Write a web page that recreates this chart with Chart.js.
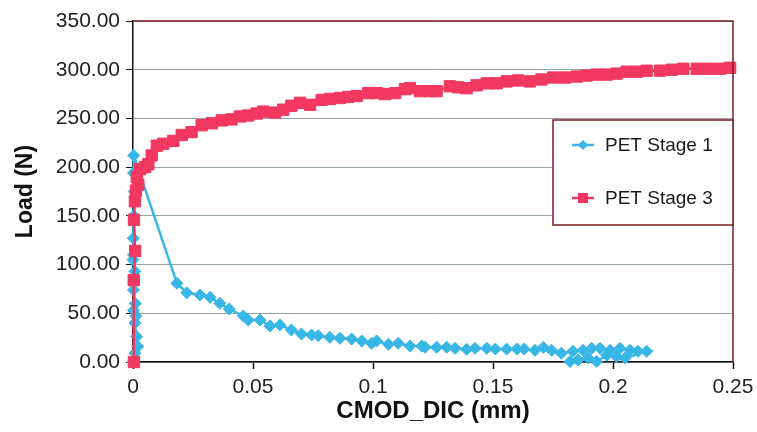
<!DOCTYPE html>
<html>
<head>
<meta charset="utf-8">
<script src="https://cdn.jsdelivr.net/npm/chart.js@4/dist/chart.umd.min.js"></script>
<style>
  body { margin: 0; background: #fff; overflow: hidden; }
  #wrap { width: 757px; height: 432px; }
</style>
</head>
<body>
<div id="wrap"><canvas id="myChart"></canvas></div>
<script>
// data

var seriesNames = ['PET Stage 1', 'PET Stage 3'];

var xTicks = ['0', '0.05', '0.1', '0.15', '0.2', '0.25'];

// PET Stage 1 (blue diamonds)
var stage1X = [0, 0.0008, 0.0020, 0.0015, 0.0008, 0.0012, 0.0002, 0.0010, 0.0002, 0.0008,
    0.0000, 0.0002, 0.0001, 0.0003, 0.0005, 0.0002, 0.0003,
    0.0183, 0.0224, 0.0279, 0.0321, 0.0362, 0.0401, 0.0460, 0.0480, 0.0529, 0.0571, 0.0612,
    0.0660, 0.0702, 0.0744, 0.0772, 0.0820, 0.0862, 0.0911, 0.0953, 0.0994, 0.1015, 0.1064,
    0.1105, 0.1154, 0.1203, 0.1217, 0.1265, 0.1307, 0.1342, 0.1390, 0.1425, 0.1474, 0.1510,
    0.1557, 0.1600, 0.1630, 0.1675, 0.1710, 0.1744, 0.1785, 0.1833, 0.1875, 0.1911, 0.1946,
    0.1988, 0.2029, 0.2071, 0.2104, 0.2140,
    0.2050, 0.2015, 0.1974, 0.1932, 0.1896, 0.1854, 0.1821];
var stage1Y = [0, 9, 16, 26, 40, 47, 53, 60, 74, 93,
    105, 110, 127, 150, 175, 194, 212,
    80.8, 71, 68.8, 66.4, 60.2, 54.4, 47.2, 43.1, 43.1, 37, 38,
    32.9, 28.7, 27.7, 27, 25.3, 24.3, 23.6, 21.6, 19.2, 21.6, 18.2,
    19.2, 16.4, 16.4, 15.1, 15.1, 15.1, 14, 13, 14, 14, 13.3,
    13.3, 13.3, 13.3, 12, 15, 12, 9, 11, 12, 14, 14,
    12, 14, 12, 11, 11,
    4, 5.5, 7, 0.5, 4, 2, 0.5];

// PET Stage 3 (pink squares)
var stage3X = [0.0004, 0.0003, 0.0009, 0.0004, 0.0008, 0.0012, 0.0022, 0.0016, 0.0030, 0.0050,
    0.0064, 0.0078, 0.0099, 0.0126, 0.0168, 0.0203, 0.0244, 0.0286, 0.0328, 0.0370,
    0.0410, 0.0446, 0.0480, 0.0515, 0.0543, 0.0592, 0.0626, 0.0660, 0.0696, 0.0738,
    0.0786, 0.0820, 0.0862, 0.0897, 0.0932, 0.0980, 0.1015, 0.1050, 0.1092, 0.1133,
    0.1154, 0.1196, 0.1238, 0.1265, 0.1320, 0.1355, 0.1390, 0.1432, 0.1474, 0.1515,
    0.1557, 0.1605, 0.1654, 0.1702, 0.1751, 0.1800, 0.1849, 0.1890, 0.1932, 0.1974,
    0.2015, 0.2057, 0.2099, 0.2140, 0.2196, 0.2245, 0.2293, 0.2349, 0.2397, 0.2446, 0.2488];
var stage3Y = [0, 84, 114, 146, 165, 176, 182, 190, 198, 200,
    203, 212, 222, 224, 227, 233, 236, 243, 245, 248,
    249, 252, 253, 255, 257, 256, 259, 263, 266, 264,
    269, 270, 271, 272, 273, 276, 276, 275, 276, 280,
    281, 278, 278, 278, 283, 282, 281, 284, 286, 286,
    288, 289, 288, 290, 292, 292, 293, 294, 295, 295,
    296, 298, 298, 299, 299, 300, 301, 301, 301, 301, 302];

var blue = 'rgb(56,182,230)';
var pink = 'rgb(240,56,96)';
var darkRed = '#7c1d24';

function toPoints(xs, ys) {
    var pts = [];
    for (var i = 0; i < xs.length; i++) {
        pts.push({ x: xs[i], y: ys[i] });
    }
    return pts;
}

// red frame on top/right plus the boxed legend inside the plot
var frameAndLegend = {
    id: 'frameAndLegend',
    afterDraw: function (chart) {
        var ctx = chart.ctx;
        var a = chart.chartArea;
        ctx.save();
        ctx.strokeStyle = darkRed;
        ctx.lineWidth = 1.5;
        ctx.beginPath();
        ctx.moveTo(a.left, a.top);
        ctx.lineTo(a.right, a.top);
        ctx.lineTo(a.right, a.bottom);
        ctx.stroke();

        // legend box
        var bx = 553, by = 120, bw = a.right - 553, bh = 105;
        ctx.fillStyle = '#fff';
        ctx.fillRect(bx, by, bw, bh);
        ctx.strokeRect(bx, by, bw, bh);

        var rows = [145, 198];
        chart.data.datasets.forEach(function (ds, i) {
            var y = rows[i];
            ctx.strokeStyle = ds.borderColor;
            ctx.lineWidth = 2.5;
            ctx.beginPath();
            ctx.moveTo(572, y);
            ctx.lineTo(594, y);
            ctx.stroke();
            ctx.fillStyle = ds.backgroundColor;
            ctx.beginPath();
            if (ds.pointStyle === 'rectRot') {
                ctx.moveTo(583 - 5, y);
                ctx.lineTo(583, y - 5);
                ctx.lineTo(583 + 5, y);
                ctx.lineTo(583, y + 5);
                ctx.closePath();
            } else {
                ctx.rect(583 - 5, y - 5, 10, 10);
            }
            ctx.fill();
            ctx.fillStyle = '#1a1a1a';
            ctx.font = '19px "Liberation Sans", Arial, sans-serif';
            ctx.textBaseline = 'middle';
            ctx.textAlign = 'left';
            ctx.fillText(ds.label, 605, y + 1);
        });
        ctx.restore();
    }
};

const data = {
    datasets: [{
        label: seriesNames[0],
        data: toPoints(stage1X, stage1Y),
        borderColor: blue,
        backgroundColor: blue,
        borderWidth: 2.5,
        pointStyle: 'rectRot',
        pointRadius: 6,
        pointBorderWidth: 1,
        showLine: true,
        clip: false,
        order: 1
    }, {
        label: seriesNames[1],
        data: toPoints(stage3X, stage3Y),
        borderColor: pink,
        backgroundColor: pink,
        borderWidth: 2.5,
        pointStyle: 'rect',
        pointRadius: 8,
        pointBorderWidth: 1,
        showLine: true,
        clip: false,
        order: 0
    }]
};

const config = {
    type: 'scatter',
    data: data,
    plugins: [frameAndLegend],
    options: {
        responsive: true,
        maintainAspectRatio: false,
        animation: false,
        layout: { padding: { left: 0, right: 24, top: 21, bottom: 0 } },
        plugins: {
            legend: { display: false },
            tooltip: { enabled: false }
        },
        scales: {
            x: {
                type: 'linear',
                min: 0,
                max: 0.25,
                border: { color: '#111', width: 1.5 },
                grid: { drawOnChartArea: false, tickColor: '#111', tickLength: 7, tickWidth: 1.5 },
                ticks: {
                    stepSize: 0.05,
                    padding: 6,
                    color: '#222',
                    font: { family: '"Liberation Sans", Arial, sans-serif', size: 21 },
                    callback: function (v, i) { return xTicks[i]; }
                },
                title: {
                    display: true,
                    text: 'CMOD_DIC (mm)',
                    color: '#111',
                    padding: { top: 0, bottom: 6 },
                    font: { family: '"Liberation Sans", Arial, sans-serif', size: 24, weight: 'bold' }
                },
                afterFit: function (scale) {
                    scale.height = 70;
                    scale.paddingLeft = 0;
                    scale.paddingRight = 0;
                }
            },
            y: {
                min: 0,
                max: 350,
                border: { color: '#111', width: 1.5 },
                grid: { color: '#95a3a3', lineWidth: 1, tickColor: '#111', tickLength: 7 },
                ticks: {
                    stepSize: 50,
                    padding: 6,
                    color: '#222',
                    font: { family: '"Liberation Sans", Arial, sans-serif', size: 21 },
                    callback: function (v) { return v.toFixed(2); }
                },
                title: {
                    display: true,
                    text: 'Load (N)',
                    color: '#111',
                    padding: { top: 12, bottom: 0 },
                    font: { family: '"Liberation Sans", Arial, sans-serif', size: 23, weight: 'bold' }
                },
                afterFit: function (scale) {
                    scale.width = 133;
                    scale.paddingTop = 0;
                    scale.paddingBottom = 0;
                }
            }
        }
    }
};

var myChart = new Chart(document.getElementById('myChart'), config);
</script>
</body>
</html>
